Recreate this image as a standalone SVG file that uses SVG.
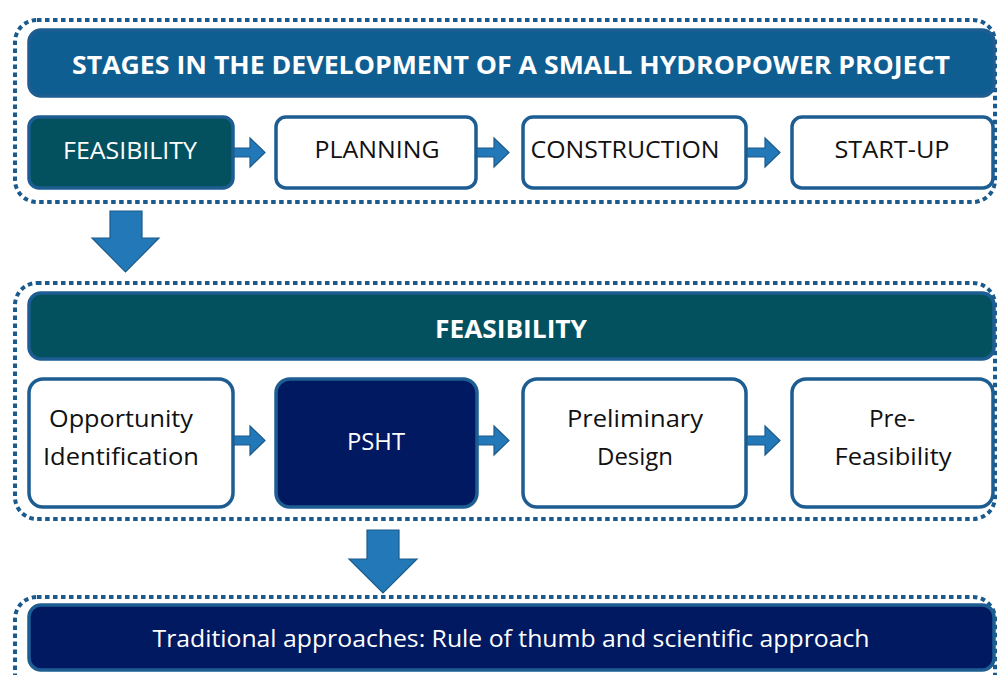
<svg xmlns="http://www.w3.org/2000/svg" width="997" height="675" viewBox="0 0 997 675">
<style>
.cont{fill:none;stroke:#1b5a8c;stroke-width:4;stroke-dasharray:4.5 3.5}
.box{stroke:#1d5d91;stroke-width:3.5}
.w{fill:#ffffff}
.teal{fill:#03515f}
.navy{fill:#001960}
.blue{fill:#0e5e92}
.arr{fill:#2379b8;stroke:#1b5a8c;stroke-width:1.2}
text{font-family:"Open Sans","Noto Sans","Liberation Sans",sans-serif;text-anchor:middle}
.lb{font-size:24px;fill:#111}
.lw{font-size:24px;fill:#ffffff}
.hd{font-size:25px;font-weight:bold;fill:#ffffff}
</style>
<g id="containers">
<rect class="cont" x="15" y="20" width="980" height="182" rx="22"/>
<rect class="cont" x="15" y="283" width="980" height="236" rx="22"/>
<rect class="cont" x="15" y="597" width="980" height="110" rx="22"/>
</g>
<g id="title"><rect class="box blue" x="29" y="30" width="965" height="66" rx="12"/><text class="hd" x="511" y="74" textLength="878" lengthAdjust="spacingAndGlyphs">STAGES IN THE DEVELOPMENT OF A SMALL HYDROPOWER PROJECT</text></g>
<g id="s-feasibility"><rect class="box teal" x="29" y="117" width="204" height="71" rx="10"/><text class="lw" x="130" y="159" textLength="134" lengthAdjust="spacingAndGlyphs">FEASIBILITY</text></g>
<g id="s-planning"><rect class="box w" x="276" y="117" width="200" height="71" rx="10"/><text class="lb" x="377" y="158" textLength="125" lengthAdjust="spacingAndGlyphs">PLANNING</text></g>
<g id="s-construction"><rect class="box w" x="523" y="117" width="223" height="71" rx="10"/><text class="lb" x="625" y="158" textLength="189" lengthAdjust="spacingAndGlyphs">CONSTRUCTION</text></g>
<g id="s-startup"><rect class="box w" x="792" y="117" width="201" height="71" rx="10"/><text class="lb" x="892" y="158" textLength="115" lengthAdjust="spacingAndGlyphs">START-UP</text></g>
<g id="feasibility-bar"><rect class="box teal" x="29" y="293" width="965" height="66" rx="12"/><text class="hd" x="511" y="338" textLength="152" lengthAdjust="spacingAndGlyphs">FEASIBILITY</text></g>
<g id="f-opportunity"><rect class="box w" x="29" y="379" width="204" height="128" rx="14"/><text class="lb" x="121" y="427" textLength="144" lengthAdjust="spacingAndGlyphs">Opportunity</text><text class="lb" x="121" y="465" textLength="156" lengthAdjust="spacingAndGlyphs">Identification</text></g>
<g id="f-psht"><rect class="box navy" x="276" y="379" width="201" height="128" rx="14"/><text class="lw" x="376" y="450" textLength="58" lengthAdjust="spacingAndGlyphs">PSHT</text></g>
<g id="f-preliminary"><rect class="box w" x="523" y="379" width="223" height="128" rx="14"/><text class="lb" x="635" y="427" textLength="136" lengthAdjust="spacingAndGlyphs">Preliminary</text><text class="lb" x="635" y="465" textLength="76" lengthAdjust="spacingAndGlyphs">Design</text></g>
<g id="f-prefeasibility"><rect class="box w" x="792" y="379" width="201" height="128" rx="14"/><text class="lb" x="892" y="427" textLength="46" lengthAdjust="spacingAndGlyphs">Pre-</text><text class="lb" x="893" y="465" textLength="117" lengthAdjust="spacingAndGlyphs">Feasibility</text></g>
<g id="traditional"><rect class="box navy" x="29" y="605" width="965" height="65" rx="12"/><text class="lw" x="511" y="647" textLength="717" lengthAdjust="spacingAndGlyphs">Traditional approaches: Rule of thumb and scientific approach</text></g>
<g id="connectors">
<path class="arr" d="M234 148H250V138L265 152.5L250 167V157H234Z"/>
<path class="arr" d="M477 148H494V138L509 152.5L494 167V157H477Z"/>
<path class="arr" d="M747 148H765V138L780 152.5L765 167V157H747Z"/>
<path class="arr" d="M234 436H250V426L265 440.5L250 455V445H234Z"/>
<path class="arr" d="M478 436H494V426L509 440.5L494 455V445H478Z"/>
<path class="arr" d="M747 436H765V426L780 440.5L765 455V445H747Z"/>
<path class="arr" d="M110 211H142V238H159L125.5 272L92 238H110Z"/>
<path class="arr" d="M367 530H399V559H417L383 593L349 559H367Z"/>
</g>
</svg>
